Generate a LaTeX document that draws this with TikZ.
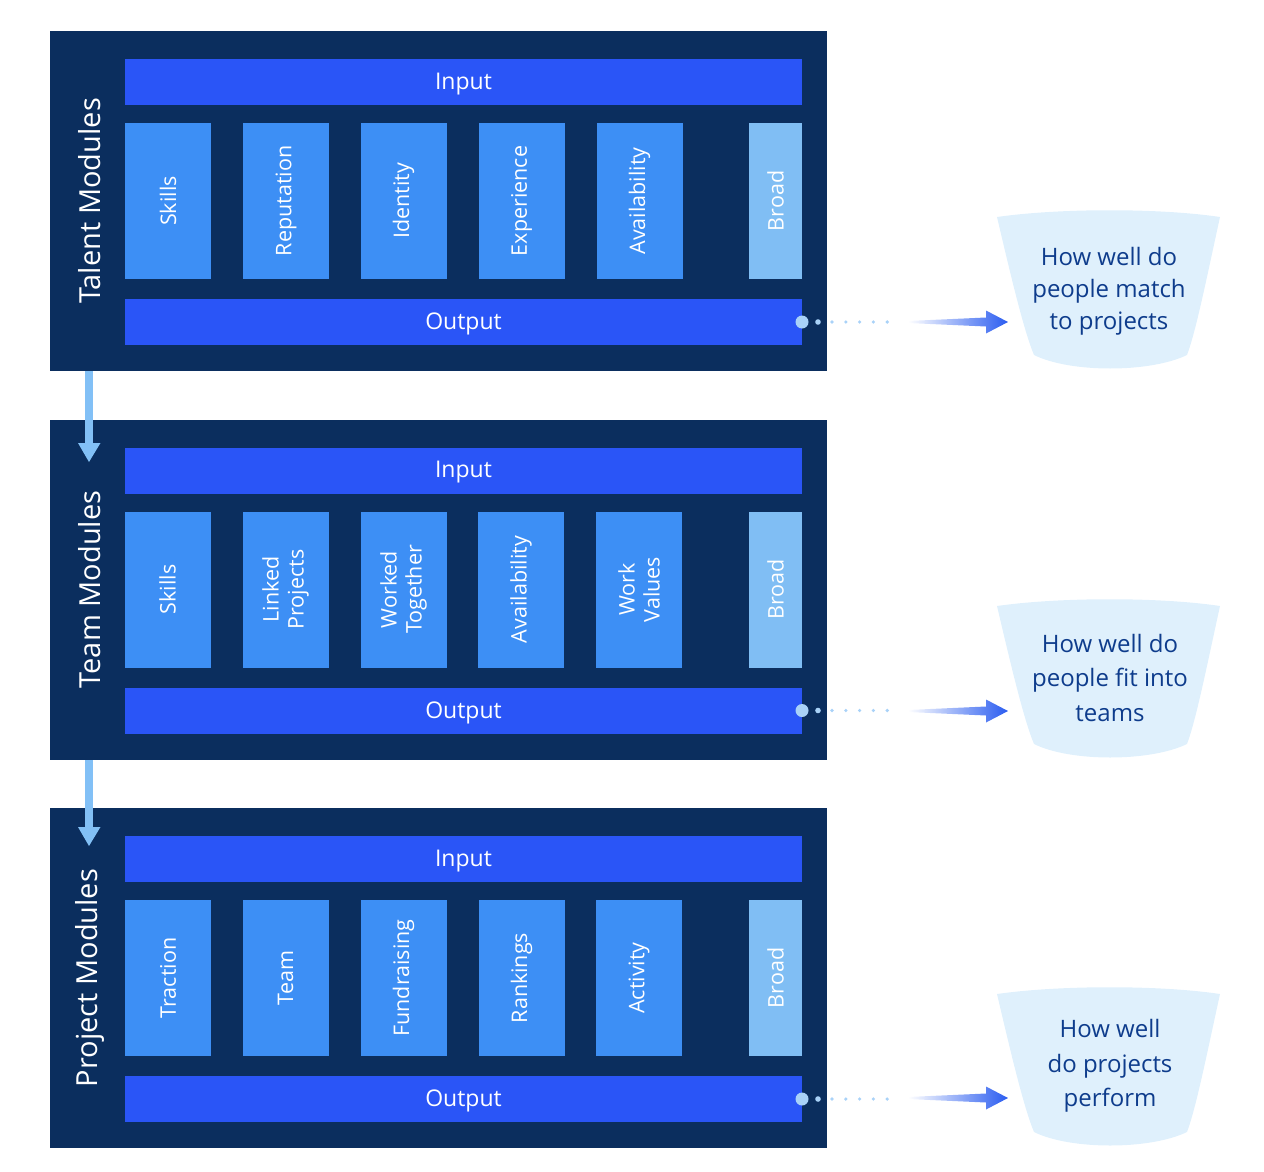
\documentclass[tikz,border=0pt]{standalone}
\usepackage{fontspec}
\setmainfont{Open Sans}
\usetikzlibrary{calc}
\definecolor{navy}{HTML}{0B2E5E}
\definecolor{barblue}{HTML}{2A55F7}
\definecolor{modblue}{HTML}{3D8FF5}
\definecolor{broadblue}{HTML}{80BEF4}
\definecolor{arrowlight}{HTML}{82C0F6}
\definecolor{cupfill}{HTML}{DFF0FC}
\definecolor{cuptext}{HTML}{0E3C8C}
\definecolor{dotblue}{HTML}{A9D2F8}
\definecolor{gradblue}{HTML}{2A5CF0}
\begin{document}
\begin{tikzpicture}[x=1pt,y=-1pt,
  panel/.style={fill=navy,draw=none,outer sep=0pt,inner sep=0pt,minimum width=777pt,minimum height=340pt},
  bar/.style={fill=barblue,draw=none,outer sep=0pt,inner sep=0pt,minimum width=677pt,minimum height=46pt},
  bartext/.style={text=white,font=\fontsize{23}{27}\selectfont},
  modbox/.style={fill=modblue,draw=none,outer sep=0pt,inner sep=0pt,minimum width=86pt,minimum height=156pt},
  broadbox/.style={fill=broadblue,draw=none,outer sep=0pt,inner sep=0pt,minimum width=53pt,minimum height=156pt},
  modlabel/.style={rotate=90,text=white,align=center,font=\fontsize{21.5}{25}\selectfont},
  sidelabel/.style={rotate=90,text=white,font=\fontsize{29}{33}\selectfont},
  cuplabel/.style={text=cuptext,align=center},
  downarrow/.style={fill=arrowlight,draw=none}
]
\useasboundingbox (0,0) rectangle (1264,1172);

% ---------- panels ----------
\foreach \pn/\yc/\side in {1/201/Talent Modules,2/589.5/Team Modules,3/978/Project Modules}{
  \node[panel] (p\pn) at (438.5,\yc) {};
  \node[bar] (in\pn) at (463.5,\yc-119) {};
  \node[bartext] at ($(in\pn)+(0,2)$) {Input};
  \node[bar] (out\pn) at (463.5,\yc+121) {};
  \node[bartext] at ($(out\pn)+(0,2)$) {Output};
  \node[sidelabel] (side\pn) at (90,\yc) {\side};
  \node[broadbox] (broad\pn) at (775.5,\yc) {};
  \node[modlabel] at (broad\pn) {Broad};
}

% ---------- module boxes ----------
\foreach \i/\xc/\lab in {1/168/Skills,2/286/Reputation,3/403.5/Identity,4/521.5/Experience,5/639.5/Availability}{
  \node[modbox] (a\i) at (\xc,201) {};
  \node[modlabel] at (a\i) {\lab};
}
\foreach \i/\xc/\lab in {1/167.5/Skills,2/285.5/Linked\\Projects,3/403.5/Worked\\Together,4/521/Availability,5/639/Work\\Values}{
  \node[modbox] (b\i) at (\xc,589.5) {};
  \node[modlabel] at (b\i) {\lab};
}
\foreach \i/\xc/\lab in {1/168/Traction,2/285.5/Team,3/403.5/Fundraising,4/521.5/Rankings,5/639/Activity}{
  \node[modbox] (c\i) at (\xc,978) {};
  \node[modlabel] at (c\i) {\lab};
}

% ---------- vertical arrows between panels ----------
\coordinate (t1) at (89,462);
\coordinate (t2) at (89,846);
\foreach \src/\tip in {p1/t1,p2/t2}{
  \fill[downarrow] ($(\src.south west)+(35,0)$) rectangle ($(\tip)+(3.5,-19)$);
  \fill[downarrow] ($(\tip)+(-11,-19)$) -- ($(\tip)+(11.5,-19)$) -- (\tip) -- cycle;
}

% ---------- cups ----------
\foreach \cn/\yc in {1/291,2/680,3/1068}{
  \fill[cupfill] (997,\yc-74) .. controls (1060,\yc-83) and (1160,\yc-83) .. (1220,\yc-74)
     .. controls (1206,\yc-10) and (1196,\yc+40) .. (1187,\yc+64)
     .. controls (1150,\yc+82) and (1070,\yc+82) .. (1034,\yc+64)
     .. controls (1024,\yc+40) and (1012,\yc-10) .. (997,\yc-74) -- cycle;
}
\node[cuplabel,font=\fontsize{24}{32}\selectfont] (q1) at (1109,291) {How well do\\people match\\to projects};
\node[cuplabel,font=\fontsize{24}{34.5}\selectfont] (q2) at (1110,677.5) {How well do\\people fit into\\teams};
\node[cuplabel,font=\fontsize{24}{34.5}\selectfont] (q3) at (1110,1066) {How well\\do projects\\perform};

% ---------- output connectors ----------
\foreach \n/\yc in {1/322,2/711,3/1098}{
  \coordinate (cupin\n) at (1008,\yc);
  \fill[dotblue] (out\n.east) circle (6.5);
  \fill[dotblue] ($(out\n.east)+(16,0)$) circle (2.8);
  \foreach \k in {0,...,4}{
    \fill[dotblue] ($(out\n.east)+(30+13.8*\k,0)$) circle (1.8);
  }
  \shade[left color=white,right color=gradblue]
    ($(cupin\n)+(-100,-1)$) -- ($(cupin\n)+(-22,-4.5)$) -- ($(cupin\n)+(-22,-11.5)$) -- (cupin\n)
    -- ($(cupin\n)+(-22,11.5)$) -- ($(cupin\n)+(-22,4.5)$) -- ($(cupin\n)+(-100,1)$) -- cycle;
}
\end{tikzpicture}
\end{document}
